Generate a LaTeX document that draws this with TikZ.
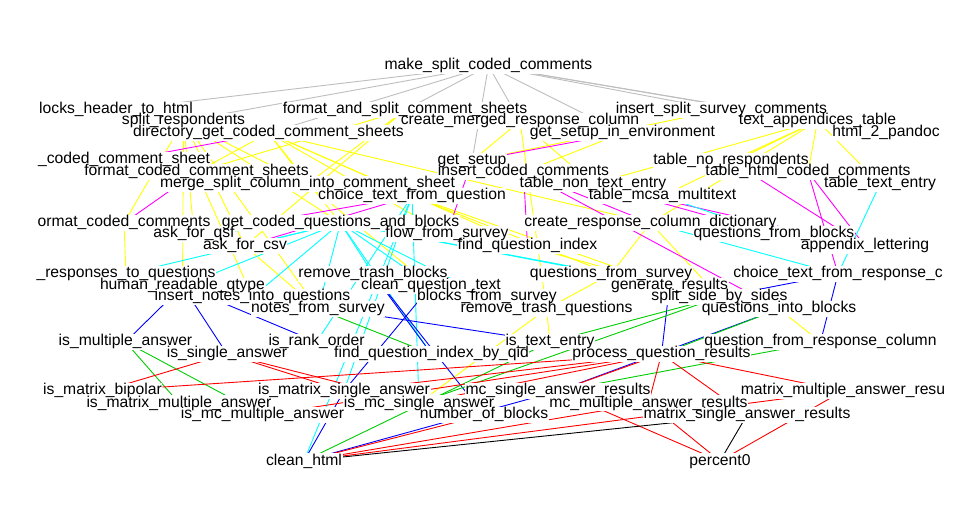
\documentclass[tikz,border=0pt]{standalone}
\usepackage{fontspec}
\setmainfont{Liberation Sans}
\usetikzlibrary{backgrounds}
\definecolor{fwgray}{RGB}{190,190,190}
\definecolor{fwyellow}{RGB}{255,255,0}
\definecolor{fwmagenta}{RGB}{255,0,255}
\definecolor{fwcyan}{RGB}{0,255,255}
\definecolor{fwblue}{RGB}{0,0,255}
\definecolor{fwgreen}{RGB}{0,205,0}
\definecolor{fwred}{RGB}{255,0,0}

\begin{document}
\begin{tikzpicture}[x=1pt,y=-1pt,
   fn/.style={inner sep=0.4pt,text height=11pt,text depth=3pt,
              font=\fontsize{15.7}{16}\selectfont},
   link/.style={line width=0.9pt}]
\useasboundingbox (0,0) rectangle (980,526);
 %% level 1
   \node[fn] (msc) at (488.5,66) {make\_split\_coded\_comments};
 %% level 2
   \node[fn] (bhh) at (116,110) {locks\_header\_to\_html};
   \node[fn] (spr) at (183.5,121) {split\_respondents};
   \node[fn] (dgc) at (268.5,133) {directory\_get\_coded\_comment\_sheets};
   \node[fn] (fsc) at (405,110) {format\_and\_split\_comment\_sheets};
   \node[fn] (cmr) at (520,121) {create\_merged\_response\_column};
   \node[fn] (gse) at (622.5,133) {get\_setup\_in\_environment};
   \node[fn] (iss) at (721.5,110) {insert\_split\_survey\_comments};
   \node[fn] (tat) at (817.5,121) {text\_appendices\_table};
   \node[fn] (h2p) at (886,133) {html\_2\_pandoc};
 %% level 3
   \node[fn] (ccs) at (124,160) {\_coded\_comment\_sheet};
   \node[fn] (fcs) at (196.5,172) {format\_coded\_comment\_sheets};
   \node[fn] (msp) at (307.5,184) {merge\_split\_column\_into\_comment\_sheet};
   \node[fn] (gsu) at (472,161) {get\_setup};
   \node[fn] (icc) at (523.5,172) {insert\_coded\_comments};
   \node[fn] (tnr) at (731,161) {table\_no\_respondents};
   \node[fn] (tnt) at (593,184) {table\_non\_text\_entry};
   \node[fn] (thc) at (808,172) {table\_html\_coded\_comments};
   \node[fn] (tte) at (880,184) {table\_text\_entry};
   \node[fn] (ctq) at (412,196) {choice\_text\_from\_question};
   \node[fn] (tmm) at (662.5,196) {table\_mcsa\_multitext};
 %% level 4
   \node[fn] (fcc) at (124,223) {ormat\_coded\_comments};
   \node[fn] (gcq) at (340.5,223) {get\_coded\_questions\_and\_blocks};
   \node[fn] (afq) at (194,234) {ask\_for\_qsf};
   \node[fn] (afc) at (245,246) {ask\_for\_csv};
   \node[fn] (ffs) at (447,234) {flow\_from\_survey};
   \node[fn] (fqi) at (527.5,246) {find\_question\_index};
   \node[fn] (crd) at (650.5,223) {create\_response\_column\_dictionary};
   \node[fn] (qfb) at (774,234) {questions\_from\_blocks};
   \node[fn] (apl) at (865,246) {appendix\_lettering};
 %% level 5
   \node[fn] (rtq) at (126,274) {\_responses\_to\_questions};
   \node[fn] (hrq) at (182.5,286) {human\_readable\_qtype};
   \node[fn] (inq) at (252.5,297) {insert\_notes\_into\_questions};
   \node[fn] (rtb) at (373,274) {remove\_trash\_blocks};
   \node[fn] (cqt) at (431,286) {clean\_question\_text};
   \node[fn] (bfs) at (487,297) {blocks\_from\_survey};
   \node[fn] (nfs) at (318,309) {notes\_from\_survey};
   \node[fn] (rtr) at (546.5,309) {remove\_trash\_questions};
   \node[fn] (qfs) at (611,274) {questions\_from\_survey};
   \node[fn] (ger) at (669.5,286) {generate\_results};
   \node[fn] (ctr) at (838,274) {choice\_text\_from\_response\_c};
   \node[fn] (ssb) at (719.5,297) {split\_side\_by\_sides};
   \node[fn] (qib) at (779,309) {questions\_into\_blocks};
 %% level 6
   \node[fn] (qrc) at (820.5,342) {question\_from\_response\_column};
   \node[fn] (ima) at (125.5,342) {is\_multiple\_answer};
   \node[fn] (isa) at (227,354) {is\_single\_answer};
   \node[fn] (iro) at (316.5,342) {is\_rank\_order};
   \node[fn] (fqq) at (431.5,354) {find\_question\_index\_by\_qid};
   \node[fn] (ite) at (550,342) {is\_text\_entry};
   \node[fn] (pqr) at (661.5,354) {process\_question\_results};
 %% level 7
   \node[fn] (imb) at (102.5,391) {is\_matrix\_bipolar};
   \node[fn] (imm) at (179,403) {is\_matrix\_multiple\_answer};
   \node[fn] (icm) at (262.5,415) {is\_mc\_multiple\_answer};
   \node[fn] (ims) at (344,391) {is\_matrix\_single\_answer};
   \node[fn] (ics) at (419,403) {is\_mc\_single\_answer};
   \node[fn] (nob) at (484,415) {number\_of\_blocks};
   \node[fn] (msr) at (558,391) {mc\_single\_answer\_results};
   \node[fn] (mmr) at (648.5,403) {mc\_multiple\_answer\_results};
   \node[fn] (mma) at (843,391) {matrix\_multiple\_answer\_resu};
   \node[fn] (mxs) at (747,415) {matrix\_single\_answer\_results};
 %% level 8
   \node[fn] (chl) at (304,461) {clean\_html};
   \node[fn] (pc0) at (720,461) {percent0};

\begin{scope}[on background layer]
 \fill[white] (0,0) rectangle (980,526);
 \foreach \From/\To in {msc/bhh, msc/spr, msc/dgc, msc/fsc, msc/cmr, msc/gse,
        msc/iss, msc/tat, msc/h2p, msc/gsu}
        \draw[link,fwgray] (\From) -- (\To);
 \foreach \From/\To in {spr/afq, spr/hrq, spr/afc, spr/fcc, spr/msp, spr/gcq,
        spr/nfs, dgc/fcs, dgc/msp, dgc/gcq, dgc/ctq, dgc/ffs, dgc/crd, dgc/fqi,
        fsc/fcs, fsc/msp, fsc/afc, fcs/inq, fcc/rtq, cmr/gsu, cmr/tnt, cmr/rtr,
        gse/icc, iss/gsu, tat/tnt, tat/tmm, tat/crd, tat/thc, tat/tte, tat/tnr,
        ctq/qfs, ctq/ger, msp/cqt, afc/nfs, crd/qfs, crd/ssb, fqi/ger, qfs/rtr,
        rtr/ite, rtr/ics, qib/qrc}
        \draw[link,fwyellow] (\From) -- (\To);
 \foreach \From/\To in {dgc/ccs, fcs/fcc, ctq/afc, ctq/afq, gse/gsu, icc/msp,
        gsu/ffs, icc/fqi, icc/crd, tnt/qfb, tnt/apl, icc/qib, tnr/apl, thc/apl,
        thc/ctr}
        \draw[link,fwmagenta] (\From) -- (\To);
 \foreach \From/\To in {gcq/afq, gcq/afc, gcq/rtq, gcq/hrq, gcq/inq, gcq/nfs,
        gcq/rtb, gcq/cqt, gcq/bfs, gcq/fqq, gcq/qfs, gcq/ger, ctq/ics, ctq/ims,
        ctq/iro, ctq/chl, crd/ctr, tte/ctr, tmm/qfb, ffs/fqi}
        \draw[link,fwcyan] (\From) -- (\To);
 \foreach \From/\To in {hrq/ima, hrq/isa, hrq/iro, hrq/ite, rtb/fqq, cqt/ims,
        rtb/nob, ger/pqr, qib/msr, ctr/ssb, ctr/qrc, msr/chl, ims/chl}
        \draw[link,fwblue] (\From) -- (\To);
 \foreach \From/\To in {ima/imm, ima/icm, nfs/fqq, ssb/ite, qib/pqr, qrc/msr,
        ssb/ics, ite/chl}
        \draw[link,fwgreen] (\From) -- (\To);
 \foreach \From/\To in {isa/imb, isa/ims, isa/ics, pqr/ims, pqr/ics, pqr/icm,
        pqr/imb, pqr/mma, pqr/mxs, pqr/mmr, pqr/msr, nob/chl, mmr/chl, mma/chl,
        msr/pc0, mmr/pc0, mma/pc0}
        \draw[link,fwred] (\From) -- (\To);
 \foreach \From/\To in {mxs/chl, mxs/pc0}
        \draw[link,black] (\From) -- (\To);
 %% white boxes behind the labels hide the lines that pass under them
 \foreach \Name in {msc, bhh, spr, dgc, fsc, cmr, gse, iss, tat, h2p, ccs, fcs,
        msp, gsu, icc, tnr, tnt, thc, tte, ctq, tmm, fcc, gcq, afq, afc, ffs,
        fqi, crd, qfb, apl, rtq, hrq, inq, rtb, cqt, bfs, nfs, rtr, qfs, ger,
        ctr, ssb, qib, qrc, ima, isa, iro, fqq, ite, pqr, imb, imm, icm, ims,
        ics, nob, msr, mmr, mma, mxs, chl, pc0}
        \fill[white] (\Name.south west) rectangle (\Name.north east);
\end{scope}
\end{tikzpicture}
\end{document}
